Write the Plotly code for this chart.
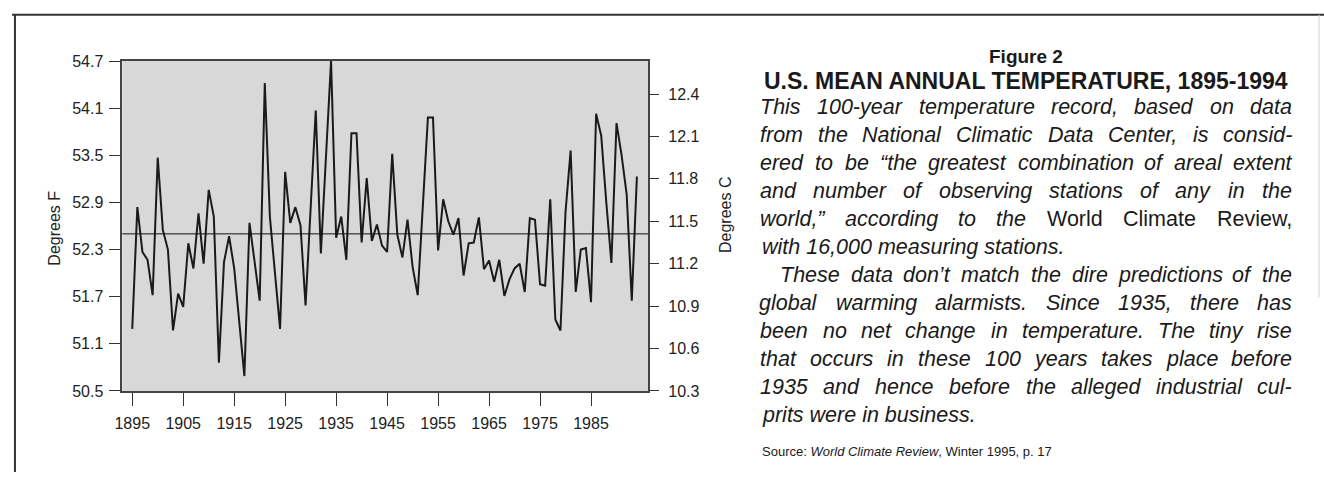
import plotly.graph_objects as go

# U.S. mean annual temperature (degrees F)
YEARS = list(range(1895, 1995))
TEMP_F = [
    51.29, 52.84, 52.27, 52.17, 51.72, 53.47, 52.55, 52.30, 51.27, 51.74,  # 1895-1904
    51.57, 52.38, 52.06, 52.76, 52.12, 53.06, 52.72, 50.86, 52.14, 52.47,  # 1905-1914
    52.06, 51.40, 50.69, 52.64, 52.15, 51.65, 54.42, 52.72, 52.00, 51.29,  # 1915-1924
    53.29, 52.64, 52.84, 52.61, 51.59, 52.83, 54.07, 52.25, 53.50, 54.70,  # 1925-1934
    52.45, 52.72, 52.17, 53.78, 53.78, 52.39, 53.21, 52.41, 52.62, 52.35,  # 1935-1944
    52.27, 53.52, 52.49, 52.20, 52.68, 52.08, 51.72, 52.85, 53.98, 53.98,  # 1945-1954
    52.29, 52.94, 52.66, 52.49, 52.70, 51.97, 52.38, 52.39, 52.71, 52.05,  # 1955-1964
    52.16, 51.89, 52.17, 51.71, 51.92, 52.06, 52.12, 51.76, 52.70, 52.68,  # 1965-1974
    51.86, 51.84, 52.94, 51.41, 51.27, 52.78, 53.56, 51.76, 52.30, 52.32,  # 1975-1984
    51.63, 54.03, 53.75, 52.90, 52.13, 53.91, 53.50, 53.00, 51.65, 53.23,  # 1985-1994
]
MEAN_F = 52.5

X_TICKS = [1895, 1905, 1915, 1925, 1935, 1945, 1955, 1965, 1975, 1985]
F_TICKS = [50.5, 51.1, 51.7, 52.3, 52.9, 53.5, 54.1, 54.7]
C_TICKS = [10.3, 10.6, 10.9, 11.2, 11.5, 11.8, 12.1, 12.4]

FIG_LABEL = "Figure 2"
TITLE = "U.S. MEAN ANNUAL TEMPERATURE, 1895-1994"
# (line, justified, indent)
BODY_LINES = [
    ("This 100-year temperature record, based on data", True, 0),
    ("from the National Climatic Data Center, is consid-", True, 0),
    ("ered to be \u201cthe greatest combination of areal extent", True, 0),
    ("and number of observing stations of any in the", True, 0),
    ("world,\u201d according to the World Climate Review,", True, 0),
    ("with 16,000 measuring stations.", False, 0),
    ("These data don\u2019t match the dire predictions of the", True, 20),
    ("global warming alarmists. Since 1935, there has", True, 0),
    ("been no net change in temperature. The tiny rise", True, 0),
    ("that occurs in these 100 years takes place before", True, 0),
    ("1935 and hence before the alleged industrial cul-", True, 0),
    ("prits were in business.", False, 0),
]
UPRIGHT = {"World", "Climate", "Review,"}
SOURCE = "Source: <i>World Climate Review</i>, Winter 1995, p. 17"

W, H = 1324, 481
FONT = "Liberation Sans, Arial, sans-serif"
BODY_SIZE = 21.5
TEXT_LEFT, TEXT_RIGHT = 757, 1292
LINE_TOP, LINE_STEP = 103, 29

# Arial / Liberation Sans advance widths (1/1000 em), used to justify lines
CHAR_W = dict(zip("abcdefghijklmnopqrstuvwxyz",
                  [556, 556, 500, 556, 556, 278, 556, 556, 222, 222, 500, 222, 833,
                   556, 556, 556, 556, 333, 500, 278, 556, 500, 722, 500, 500, 500]))
CHAR_W.update(zip("ABCDEFGHIJKLMNOPQRSTUVWXYZ",
                  [667, 667, 722, 722, 667, 611, 778, 722, 278, 500, 667, 556, 833,
                   722, 778, 667, 778, 722, 667, 611, 722, 667, 944, 667, 667, 611]))
CHAR_W.update({c: 556 for c in "0123456789"})
CHAR_W.update({" ": 278, ",": 278, ".": 278, "-": 333, ":": 278,
               "\u2019": 222, "\u201c": 333, "\u201d": 333})


def text_width(s, size):
    return sum(CHAR_W.get(c, 556) for c in s) * size / 1000


def note(text, px, py, anchor="left", size=BODY_SIZE, italic=True, bold=False):
    return dict(text=text, xref="paper", yref="paper", x=px / W, y=1 - py / H,
                xanchor=anchor, yanchor="middle", showarrow=False,
                font=dict(family=FONT, size=size, color="#1a1a1a",
                          style="italic" if italic else "normal",
                          weight="bold" if bold else "normal"))


fig = go.Figure()
fig.add_trace(go.Scatter(x=YEARS, y=TEMP_F, mode="lines",
                         line=dict(color="#1a1a1a", width=2), hoverinfo="x+y"))
# empty trace so the Celsius axis gets drawn
fig.add_trace(go.Scatter(x=[], y=[], yaxis="y2", hoverinfo="skip"))
fig.add_hline(y=MEAN_F, line=dict(color="#111111", width=1))

tickfont = dict(family=FONT, size=16, color="#222222")
fig.update_layout(
    width=W, height=H, margin=dict(l=0, r=0, t=0, b=0),
    paper_bgcolor="white", plot_bgcolor="#d8d8d8", showlegend=False,
    xaxis=dict(domain=[115 / W, 644 / W], range=[1893.05, 1996.2],
               tickvals=X_TICKS, ticks="outside", ticklen=13, tickcolor="#333333",
               showline=True, mirror=True, linecolor="#444444", linewidth=1.5,
               showgrid=False, zeroline=False, tickfont=tickfont, ticklabelstandoff=4),
    yaxis=dict(domain=[1 - 397 / H, 1 - 55 / H], range=[50.5, 54.7],
               tickvals=F_TICKS, ticktext=[f"{v:.1f}" for v in F_TICKS],
               ticks="outside", ticklen=12, tickcolor="#333333",
               showline=True, mirror=True, linecolor="#444444", linewidth=1.5,
               showgrid=False, zeroline=False, tickfont=tickfont, ticklabelstandoff=2),
    yaxis2=dict(overlaying="y", side="right", anchor="x",
                range=[10.3, 10.3 + 4.2 / 1.8],
                tickvals=C_TICKS, ticktext=[f"{v:.1f}" for v in C_TICKS],
                ticks="outside", ticklen=10, tickcolor="#333333",
                showgrid=False, zeroline=False, showline=False,
                tickfont=tickfont, ticklabelstandoff=6),
)

axis_title = dict(family=FONT, size=16, color="#222222")
annotations = [
    dict(text="Degrees F", xref="paper", yref="paper", x=47 / W, y=1 - 228 / H,
         xanchor="center", yanchor="middle", textangle=-90, showarrow=False, font=axis_title),
    dict(text="Degrees C", xref="paper", yref="paper", x=722 / W, y=1 - 215 / H,
         xanchor="center", yanchor="middle", textangle=-90, showarrow=False, font=axis_title),
]

center = (TEXT_LEFT + TEXT_RIGHT) / 2
annotations.append(note(FIG_LABEL, center, 50, "center", size=19, italic=False, bold=True))
annotations.append(note(TITLE, center, 76, "center", size=23, italic=False, bold=True))

for i, (line, justify, indent) in enumerate(BODY_LINES):
    y = LINE_TOP + i * LINE_STEP
    left = TEXT_LEFT + indent
    if not justify:
        annotations.append(note(line, left, y, "left"))
        continue
    words = line.split(" ")
    widths = [text_width(w, BODY_SIZE) for w in words]
    gap = (TEXT_RIGHT - left - sum(widths)) / (len(words) - 1)
    x = left
    for word, wd in zip(words, widths):
        annotations.append(note(word, x + wd / 2, y, "center", italic=word not in UPRIGHT))
        x += wd + gap

annotations.append(note(SOURCE, TEXT_LEFT, 460, "left", size=13, italic=False))
fig.update_layout(annotations=annotations)

# page frame
frame = dict(color="#333333", width=2)
fig.add_shape(type="line", xref="paper", yref="paper", x0=4 / W, x1=1,
              y0=1 - 7 / H, y1=1 - 7 / H, line=frame)
fig.add_shape(type="line", xref="paper", yref="paper", x0=7 / W, x1=7 / W,
              y0=0, y1=1 - 7 / H, line=frame)
fig.add_shape(type="line", xref="paper", yref="paper", x0=1319 / W, x1=1319 / W,
              y0=1 - 300 / H, y1=1 - 7 / H, line=dict(color="#d0d0d0", width=1))

# drop the browser's default body margin so the figure sits at the page origin
fig.write_html("out.html", config={"displayModeBar": False},
               post_script="document.body.style.margin = '0';")
